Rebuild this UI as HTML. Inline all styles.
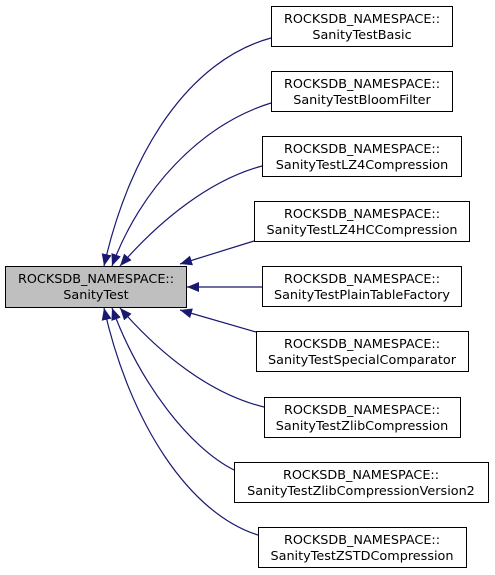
<!DOCTYPE html>
<html><head><meta charset="utf-8"><style>body{margin:0;background:#fff}svg{display:block}</style></head><body>
<svg width="495" height="575" xmlns="http://www.w3.org/2000/svg" font-family="'DejaVu Sans','Liberation Sans',sans-serif" font-size="12.8">
<defs><marker id="a" viewBox="0 0 12 10" refX="12" refY="5" markerWidth="12" markerHeight="10" markerUnits="userSpaceOnUse" orient="auto"><path d="M0,0L12,5L0,10z" fill="#191970"/></marker></defs>
<g fill="none" stroke="#191970" stroke-width="1.2">
<path d="M271,38 C190,60 130,150 104,266" marker-end="url(#a)"/>
<path d="M271,103 C200,125 140,190 112,266" marker-end="url(#a)"/>
<path d="M262,166 C210,180 160,220 120,266" marker-end="url(#a)"/>
<path d="M254,241 L180,264" marker-end="url(#a)"/>
<path d="M262,287 L187,287" marker-end="url(#a)"/>
<path d="M256,332 L180,310" marker-end="url(#a)"/>
<path d="M264,407 C210,394 160,354 120,308" marker-end="url(#a)"/>
<path d="M234,470 C190,448 140,384 112,308" marker-end="url(#a)"/>
<path d="M258,535 C190,514 130,424 104,308" marker-end="url(#a)"/>
</g>
<rect x="5.5" y="266.5" width="181" height="41" fill="#bfbfbf" stroke="#000"/>
<text x="96" y="283" text-anchor="middle">ROCKSDB_NAMESPACE::</text><text x="96" y="299" text-anchor="middle">SanityTest</text>
<g fill="#fff" stroke="#000">
<rect x="271.5" y="6.5" width="181" height="40"/>
<rect x="271.5" y="71.5" width="181" height="40"/>
<rect x="262.5" y="136.5" width="199" height="40"/>
<rect x="254.5" y="201.5" width="215" height="40"/>
<rect x="262.5" y="266.5" width="199" height="40"/>
<rect x="256.5" y="331.5" width="212" height="40"/>
<rect x="264.5" y="397.5" width="196" height="40"/>
<rect x="234.5" y="462.5" width="254" height="40"/>
<rect x="258.5" y="527.5" width="208" height="40"/>
</g>
<g text-anchor="middle">
<text x="362" y="23">ROCKSDB_NAMESPACE::</text><text x="362" y="39">SanityTestBasic</text>
<text x="362" y="88">ROCKSDB_NAMESPACE::</text><text x="362" y="104">SanityTestBloomFilter</text>
<text x="362" y="153">ROCKSDB_NAMESPACE::</text><text x="362" y="169">SanityTestLZ4Compression</text>
<text x="362" y="218">ROCKSDB_NAMESPACE::</text><text x="362" y="234">SanityTestLZ4HCCompression</text>
<text x="362" y="283">ROCKSDB_NAMESPACE::</text><text x="362" y="299">SanityTestPlainTableFactory</text>
<text x="362" y="348">ROCKSDB_NAMESPACE::</text><text x="362" y="364">SanityTestSpecialComparator</text>
<text x="362" y="414">ROCKSDB_NAMESPACE::</text><text x="362" y="430">SanityTestZlibCompression</text>
<text x="361" y="479">ROCKSDB_NAMESPACE::</text><text x="361" y="495">SanityTestZlibCompressionVersion2</text>
<text x="362" y="544">ROCKSDB_NAMESPACE::</text><text x="362" y="560">SanityTestZSTDCompression</text>
</g>
</svg>
</body></html>
